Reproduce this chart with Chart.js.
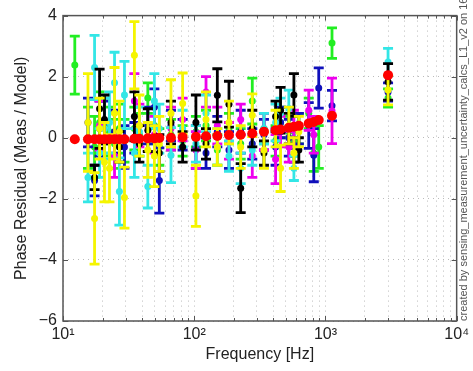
<!DOCTYPE html>
<html>
<head>
<meta charset="utf-8">
<script src="https://cdn.jsdelivr.net/npm/chart.js@4/dist/chart.umd.min.js"></script>
<style>
    html, body { margin: 0; padding: 0; background: #fff; }
    #wrap { width: 473px; height: 371px; }
</style>
</head>
<body>
<div id="wrap"><canvas id="residualChart"></canvas></div>
<script>
// measurement frequencies [Hz]
const freqs = [12.3, 15.5, 17.4, 19.0, 20.7, 22.6, 24.7, 26.9, 29.4, 35.0, 38.2, 44.3, 49.7, 54.2, 66.5, 81.6,
    103, 123, 150, 184, 226, 277, 340, 417, 455, 526, 575, 627, 746, 815, 889, 1122, 3000];

// model (red)
const modelVals = [-0.05, -0.05, -0.05, -0.05, -0.05, -0.05, -0.05, -0.05, -0.05, -0.03, -0.03, -0.02, -0.02, -0.01, 0.0, 0.02,
    0.03, 0.05, 0.06, 0.09, 0.10, 0.14, 0.20, 0.25, 0.27, 0.33, 0.36, 0.39, 0.47, 0.52, 0.58, 0.72, 2.05];

const greenVals = [2.38, 0.0, -0.3, 0.5, 0.4, 0.2, -0.2, 0.3, -0.1, 0.3, 0.1, 1.3, 0.4, -0.3, 0.1, -0.1,
    0.2, 0.4, -0.4, 0.3, -0.2, 1.2, 0.3, -0.1, 0.5, 0.2, -0.1, 0.3, 0.8, -0.5, -0.3, 3.1, 1.3];
const greenErr = [0.95, 1.0, 1.0, 1.0, 0.9, 0.8, 0.8, 0.8, 0.7, 0.7, 0.7, 0.5, 0.6, 0.6, 0.5, 0.5,
    0.5, 0.5, 0.5, 0.5, 0.5, 0.75, 0.5, 0.5, 0.5, 0.5, 0.5, 0.5, 0.5, 0.6, 0.7, 0.5, 0.3];

const blueVals = [null, 0.5, -1.4, 0.3, 0.5, null, 0.2, null, -0.3, 0.0, null, 0.4, 1.0, -1.4, 0.4, 0.1,
    -0.3, -0.5, 0.2, -0.4, 0.2, -0.2, 0.1, -0.3, 0.5, 0.0, -0.3, 0.3, 0.4, -0.57, 1.63, 1.05, 1.5];
const blueErr = [null, 0.8, 0.5, 0.9, 0.7, null, 0.7, null, 0.7, 0.5, null, 0.6, 0.6, 1.07, 0.5, 0.5,
    0.7, 0.5, 0.5, 0.6, 0.7, 0.5, 0.5, 0.6, 0.5, 0.6, 0.5, 0.5, 0.75, 0.87, 0.66, 0.5, 0.3];

const magentaVals = [null, null, null, 0.4, null, null, -0.6, null, null, 1.2, 0.4, null, 0.1, null, 0.3, 0.6,
    -0.4, 1.5, 0.4, -0.1, 0.6, -0.6, 0.2, -0.7, 0.2, -0.3, 0.3, null, 0.9, 0.1, null, 0.88, null];
const magentaErr = [null, null, null, 0.8, null, null, 0.7, null, null, 0.9, 0.7, null, 0.6, null, 0.7, 0.7,
    0.6, 0.5, 0.6, 0.6, 0.5, 0.7, 0.6, 0.8, 0.5, 0.5, 0.6, null, 0.66, 0.6, null, 1.07, null];

const cyanVals = [null, -1.3, 2.3, -0.5, 0.3, 0.5, 1.8, -1.76, 1.4, -0.5, 0.2, -1.6, 1.2, 0.3, -0.57, 0.3,
    -0.2, 0.8, -0.3, -0.6, -1.0, -0.4, 0.3, 0.5, 0.8, 0.96, -1.0, null, null, null, null, null, 2.48];
const cyanErr = [null, 0.8, 1.05, 0.8, 1.0, 1.0, 1.0, 1.1, 1.1, 0.8, 0.8, 0.7, 0.9, 0.8, 0.9, 0.6,
    0.6, 0.6, 0.6, 0.5, 0.5, 0.5, 0.5, 0.6, 0.5, 0.6, 0.4, null, null, null, null, null, 0.45];

const blackVals = [null, null, -1.3, 0.95, 0.6, null, null, -0.3, null, 0.7, -0.2, 0.25, null, -0.5, 0.5, -0.3,
    0.5, -0.2, 1.39, 1.1, -1.65, 0.3, -0.5, 0.7, 0.9, 0.3, 1.4, -0.4, null, null, null, null, 1.83];
const blackErr = [null, null, 0.4, 1.3, 0.8, null, null, 0.5, null, 0.8, 0.6, 0.7, null, 0.6, 0.7, 0.5,
    0.9, 0.5, 0.87, 0.75, 0.8, 0.6, 0.4, 0.5, 0.75, 0.5, 0.7, 0.4, null, null, null, null, 0.6];

const yellowVals = [null, 0.5, -2.64, 0.3, -0.8, -1.0, 0.8, 0.2, -1.96, 2.7, 0.4, -0.4, -0.6, -0.2, 0.8, 1.12,
    -1.9, 0.6, -0.3, 0.5, -0.3, 0.74, -0.4, 0.3, -1.0, 0.4, -0.5, 0.2, null, null, null, null, 1.56];
const yellowErr = [null, 1.6, 1.5, 1.0, 1.3, 1.1, 1.5, 1.0, 1.0, 1.1, 1.0, 0.9, 1.0, 0.9, 1.1, 1.0,
    1.0, 0.9, 0.6, 0.7, 0.7, 0.7, 0.6, 0.6, 0.76, 0.6, 0.5, 0.5, null, null, null, null, 0.48];

const xTickLabels = ['10\u00b9', '10\u00b2', '10\u00b3', '10\u2074'];
const yTicks = [-6, -4, -2, 0, 2, 4];

const fontFamily = '"Liberation Sans", Arial, Helvetica, sans-serif';

function makeSeries(label, color, vals, errs, radius) {
    const data = [];
    const errors = [];
    vals.forEach((v, i) => {
        if (v === null) return;
        data.push({ x: freqs[i], y: v });
        errors.push(errs ? errs[i] : null);
    });
    return {
        label: label,
        data: data,
        errors: errs ? errors : null,
        showLine: false,
        borderColor: color,
        backgroundColor: color,
        pointRadius: radius,
        pointBorderWidth: 0,
        pointHoverRadius: radius
    };
}

// draws each dataset's error bars right before its markers
const errorBars = {
    id: 'errorBars',
    beforeDatasetDraw(chart, args) {
        const ds = chart.data.datasets[args.index];
        if (!ds.errors) return;
        const xs = chart.scales.x, ys = chart.scales.y, ctx = chart.ctx;
        const a = chart.chartArea;
        ctx.save();
        ctx.beginPath();
        ctx.rect(a.left, a.top, a.right - a.left, a.bottom - a.top);
        ctx.clip();
        ctx.strokeStyle = ds.borderColor;
        ctx.lineWidth = 2.8;
        ds.data.forEach((p, i) => {
            const e = ds.errors[i];
            const px = xs.getPixelForValue(p.x);
            const top = ys.getPixelForValue(p.y + e);
            const bot = ys.getPixelForValue(p.y - e);
            ctx.beginPath();
            ctx.moveTo(px, top); ctx.lineTo(px, bot);
            ctx.moveTo(px - 5, top); ctx.lineTo(px + 5, top);
            ctx.moveTo(px - 5, bot); ctx.lineTo(px + 5, bot);
            ctx.stroke();
        });
        ctx.restore();
    }
};

// box, inner tick marks, side note
const frame = {
    id: 'frame',
    afterDraw(chart) {
        const ctx = chart.ctx, a = chart.chartArea;
        const xs = chart.scales.x, ys = chart.scales.y;
        ctx.save();
        ctx.strokeStyle = '#555';
        ctx.lineWidth = 1;
        ctx.beginPath();
        xs.ticks.forEach(t => {
            const px = Math.round(xs.getPixelForValue(t.value)) + 0.5;
            const len = t.label ? 5 : 3;
            ctx.moveTo(px, a.bottom); ctx.lineTo(px, a.bottom - len);
            ctx.moveTo(px, a.top); ctx.lineTo(px, a.top + len);
        });
        ys.ticks.forEach(t => {
            const py = Math.round(ys.getPixelForValue(t.value)) + 0.5;
            ctx.moveTo(a.left, py); ctx.lineTo(a.left + 5, py);
            ctx.moveTo(a.right, py); ctx.lineTo(a.right - 5, py);
        });
        ctx.stroke();
        ctx.lineWidth = 1.5;
        ctx.strokeRect(a.left, a.top, a.right - a.left, a.bottom - a.top);

        ctx.translate(a.right + 7, a.bottom);
        ctx.rotate(-Math.PI / 2);
        ctx.fillStyle = '#555';
        ctx.font = '11px ' + fontFamily;
        ctx.textBaseline = 'middle';
        ctx.textAlign = 'left';
        ctx.fillText('created by sensing_measurement_uncertainty_calcs_L1_v2 on 16-Nov-2015', 0, 0);
        ctx.restore();
    }
};

const datasets = [
    makeSeries('Model', '#ff0000', modelVals, null, 5),
    makeSeries('Meas 6', '#f5f500', yellowVals, yellowErr, 3.5),
    makeSeries('Meas 5', '#000000', blackVals, blackErr, 3.5),
    makeSeries('Meas 4', '#33e6e6', cyanVals, cyanErr, 3.5),
    makeSeries('Meas 3', '#ee00ee', magentaVals, magentaErr, 3.5),
    makeSeries('Meas 2', '#1010bb', blueVals, blueErr, 3.5),
    makeSeries('Meas 1', '#22ee22', greenVals, greenErr, 3.5)
];

const ctx = document.getElementById('residualChart').getContext('2d');

new Chart(ctx, {
    type: 'scatter',
    data: { datasets: datasets },
    options: {
        responsive: true,
        maintainAspectRatio: false,
        animation: false,
        layout: { padding: { top: 12, right: 14, left: 0, bottom: 0 } },
        plugins: {
            legend: { display: false },
            tooltip: { enabled: false }
        },
        scales: {
            x: {
                type: 'logarithmic',
                min: 10,
                max: 10000,
                afterBuildTicks(scale) {
                    const ticks = [];
                    [10, 100, 1000].forEach(d => {
                        for (let k = 1; k <= 9; k++) ticks.push({ value: d * k });
                    });
                    ticks.push({ value: 10000 });
                    scale.ticks = ticks;
                },
                afterFit(scale) { scale.height = 50; },
                grid: { color: '#bbbbbb', lineWidth: 1, drawTicks: false },
                border: { display: false, dash: [1, 4] },
                ticks: {
                    autoSkip: false,
                    maxRotation: 0,
                    padding: 4,
                    color: '#222',
                    font: { family: fontFamily, size: 16 },
                    callback: function (value) {
                        const e = Math.round(Math.log10(value));
                        if (Math.abs(Math.pow(10, e) - value) < 1e-6) return xTickLabels[e - 1];
                        return '';
                    }
                },
                title: {
                    display: true,
                    text: 'Frequency [Hz]',
                    color: '#222',
                    font: { family: fontFamily, size: 16 },
                    padding: { top: 0, bottom: 7 }
                }
            },
            y: {
                min: -6,
                max: 4,
                afterBuildTicks(scale) {
                    scale.ticks = yTicks.map(v => ({ value: v }));
                },
                afterFit(scale) { scale.width = 63; },
                grid: { color: '#bbbbbb', lineWidth: 1, drawTicks: false },
                border: { display: false, dash: [1, 4] },
                ticks: {
                    padding: 6,
                    color: '#222',
                    font: { family: fontFamily, size: 16 },
                    callback: function (value) { return value < 0 ? '\u2212' + Math.abs(value) : String(value); }
                },
                title: {
                    display: true,
                    text: 'Phase Residual (Meas / Model)',
                    color: '#222',
                    font: { family: fontFamily, size: 16 },
                    padding: { top: 12, bottom: 0 }
                }
            }
        }
    },
    plugins: [errorBars, frame]
});
</script>
</body>
</html>
